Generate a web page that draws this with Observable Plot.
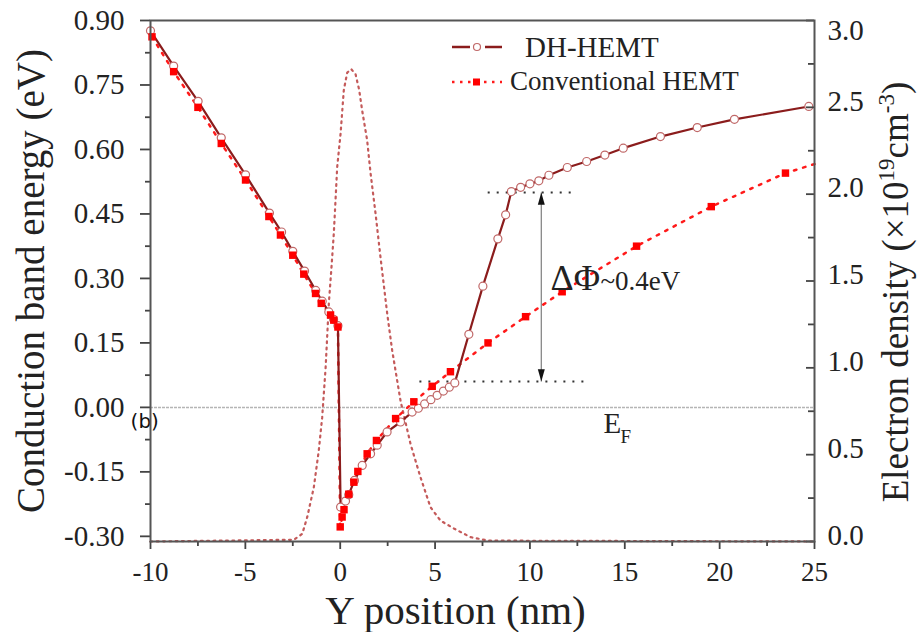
<!DOCTYPE html>
<html>
<head>
<meta charset="utf-8">
<script src="https://cdn.jsdelivr.net/npm/d3@7"></script>
<script src="https://cdn.jsdelivr.net/npm/@observablehq/plot@0.6"></script>
<style>
  html, body { margin: 0; padding: 0; background: #fff; }
  #chart { width: 920px; height: 632px; }
</style>
</head>
<body>
<div id="chart"></div>
<script>
// ---------- data ----------
// DH-HEMT conduction band energy (eV) vs Y position (nm)
const dhX = [-10, -8.78, -7.49, -6.27, -4.99, -3.73, -3.09, -2.50, -1.88, -1.29, -0.95, -0.60, -0.35, -0.12,
             0.02, 0.28, 0.45, 0.75, 1.16, 1.60, 1.95, 2.47, 3.18, 3.79, 4.12, 4.45, 4.78, 5.11, 5.44, 5.75, 6.04,
             6.78, 7.52, 8.31, 8.72, 9.02, 9.51, 10.00, 10.47, 11.00, 11.97, 12.99, 13.95, 14.92, 16.88, 18.82, 20.78, 24.70];
const dhE = [0.876, 0.794, 0.712, 0.627, 0.541, 0.452, 0.408, 0.363, 0.317, 0.272, 0.247, 0.222, 0.205, 0.190,
             -0.232, -0.218, -0.203, -0.170, -0.135, -0.108, -0.088, -0.057, -0.034, -0.011, -0.002, 0.008, 0.018, 0.028, 0.038, 0.047, 0.057,
             0.170, 0.282, 0.392, 0.448, 0.502, 0.512, 0.520, 0.527, 0.540, 0.558, 0.572, 0.587, 0.603, 0.630, 0.651, 0.670, 0.700];

// Conventional HEMT conduction band energy (eV); last point is the line end at the frame (no marker)
const convX = [-9.92, -8.78, -7.50, -6.27, -4.99, -3.76, -3.15, -2.50, -1.92, -1.30, -1.00, -0.51, -0.34, -0.12,
               0.00, 0.10, 0.20, 0.45, 0.72, 0.93, 1.42, 1.91, 2.92, 3.88, 4.85, 5.81, 7.79, 9.77, 11.70, 15.62, 19.56, 23.47, 25.00];
const convE = [0.862, 0.781, 0.698, 0.614, 0.529, 0.444, 0.401, 0.354, 0.310, 0.265, 0.242, 0.215, 0.203, 0.187,
               -0.278, -0.255, -0.238, -0.202, -0.174, -0.149, -0.108, -0.077, -0.026, 0.013, 0.049, 0.083, 0.150, 0.211, 0.269, 0.375, 0.467, 0.545, 0.566];

// Electron density (x10^19 cm^-3) vs Y position (nm), right axis
const densX = [-10, -2.45, -2.00, -1.74, -1.39, -1.13, -0.95, -0.77, -0.60, -0.46, -0.34, -0.25, -0.16, 0.02, 0.19, 0.37, 0.58, 0.81, 1.00,
               1.16, 1.42, 1.60, 1.86, 2.12, 2.48, 2.74, 3.18, 3.71, 4.23, 4.76, 5.29, 5.99, 6.87, 7.80, 25];
const densN = [0, 0.01, 0.044, 0.14, 0.313, 0.524, 0.716, 1.00, 1.37, 1.58, 1.77, 1.96, 2.155, 2.35, 2.60, 2.70, 2.72, 2.69, 2.60,
               2.48, 2.31, 2.12, 1.89, 1.64, 1.31, 1.10, 0.81, 0.56, 0.37, 0.197, 0.12, 0.075, 0.025, 0.005, 0];

// axes
const xTicks = [-10, -5, 0, 5, 10, 15, 20, 25];
const xMinor = [-7.5, -2.5, 2.5, 7.5, 12.5, 17.5, 22.5];
const yTicks = [-0.30, -0.15, 0, 0.15, 0.30, 0.45, 0.60, 0.75, 0.90];
const yMinor = [-0.225, -0.075, 0.075, 0.225, 0.375, 0.525, 0.675, 0.825];
const nTicks = [0, 0.5, 1.0, 1.5, 2.0, 2.5, 3.0];
const nMinor = [0.25, 0.75, 1.25, 1.75, 2.25, 2.75];
const xDomain = [-10, 25];
const yDomain = [-0.312, 0.90];
const nDomain = [0, 3];

// annotation (ΔΦ between the DH-HEMT kinks)
const deltaY = [0.50, 0.06];
const deltaX1 = [7.8, 4.2];
const deltaX2 = [12.25, 13.2];
const arrowX = [10.6];
const deltaLabel = ["ΔΦ", "~0.4eV"];
const deltaLabelX = [11.09, 13.72];
const deltaLabelY = [0.273, 0.273];
const efLabel = ["E", "F"];
const efLabelX = [13.88, 14.78];
const efLabelY = [-0.060, -0.0835];
const panelLabel = ["(b)"];
const panelLabelX = [-11.05];
const panelLabelY = [-0.0486];

// texts
const xTitle = "Y position (nm)";
const yTitle = "Conduction band energy (eV)";
const rightTitleParts = ["Electron density (×10", "19", "cm", "-3", ")"];
const rightTitleSup = [false, true, false, true, false];
const legendLabels = ["DH-HEMT", "Conventional HEMT"];

// ---------- build ----------
const W = 920, H = 632, mL = 150, mR = 106, mT = 20, mB = 91;
const plotW = W - mL - mR;
const toLeft = n => yDomain[0] + (n - nDomain[0]) / (nDomain[1] - nDomain[0]) * (yDomain[1] - yDomain[0]);
const fromLeft = v => nDomain[0] + (v - yDomain[0]) / (yDomain[1] - yDomain[0]) * (nDomain[1] - nDomain[0]);

const dh = dhX.map((x, i) => ({x, y: dhE[i]}));
const conv = convX.map((x, i) => ({x, y: convE[i]}));
const convMarks = conv.slice(0, conv.length - 1);
const dens = densX.map((x, i) => ({x, y: toLeft(densN[i])}));
const deltaRules = deltaY.map((y, i) => ({y, x1: deltaX1[i], x2: deltaX2[i]}));
const arrowSpec = [{x: arrowX[0], y1: deltaY[1], y2: deltaY[0]}];

const triUp = {draw(ctx, size) { const s = Math.sqrt(size); ctx.moveTo(0, 0); ctx.lineTo(-0.28 * s, s); ctx.lineTo(0.28 * s, s); ctx.closePath(); }};
const triDown = {draw(ctx, size) { const s = Math.sqrt(size); ctx.moveTo(0, 0); ctx.lineTo(-0.28 * s, -s); ctx.lineTo(0.28 * s, -s); ctx.closePath(); }};

const SERIF = "'Liberation Serif', serif";
const SANS = "'DejaVu Sans', sans-serif";
const TXT = "#222", TICK = "#444";
const rightTitleText = rightTitleParts.join("");
const nTop = nTicks.filter(n => n === nDomain[1]);
const nRest = nTicks.filter(n => n !== nDomain[1]);

const plot = Plot.plot({
  width: W, height: H,
  marginLeft: mL, marginRight: mR, marginTop: mT, marginBottom: mB,
  style: {background: "#fff", color: TXT, overflow: "visible"},
  x: {domain: xDomain, axis: null},
  y: {domain: yDomain, axis: null},
  marks: [
    // Fermi level
    Plot.ruleY([0], {stroke: "#b5b5b5", strokeWidth: 1.5, strokeDasharray: "3,1"}),
    // electron density (right axis)
    Plot.line(dens, {x: "x", y: "y", stroke: "#c45a5a", strokeWidth: 2.2, strokeDasharray: "1.8,4.5"}),
    // ΔΦ guides
    Plot.ruleY(deltaRules, {y: "y", x1: "x1", x2: "x2", stroke: "#333", strokeWidth: 2, strokeDasharray: "2,7"}),
    Plot.link(arrowSpec, {x1: "x", x2: "x", y1: "y1", y2: "y2", stroke: "#888", strokeWidth: 1.3}),
    Plot.dot(arrowSpec, {x: "x", y: "y2", symbol: triUp, r: 7, fill: "#111", stroke: null}),
    Plot.dot(arrowSpec, {x: "x", y: "y1", symbol: triDown, r: 7, fill: "#111", stroke: null}),
    // conduction bands
    Plot.line(conv, {x: "x", y: "y", stroke: "#ff1a1a", strokeWidth: 2.5, strokeDasharray: "2.5,7"}),
    Plot.line(dh, {x: "x", y: "y", stroke: "#8b1c1c", strokeWidth: 2.2}),
    Plot.dot(dh, {x: "x", y: "y", r: 4, fill: "#fff", stroke: "#c06868", strokeWidth: 1.2}),
    Plot.dot(convMarks, {x: "x", y: "y", symbol: "square", r: 4.2, fill: "#ff0000", stroke: null}),
    // annotations
    Plot.text(deltaLabel.slice(0, 1), {x: deltaLabelX.slice(0, 1), y: deltaLabelY.slice(0, 1), text: d => d, textAnchor: "start", lineAnchor: "bottom", fontSize: 36, fill: TXT}),
    Plot.text(deltaLabel.slice(1), {x: deltaLabelX.slice(1), y: deltaLabelY.slice(1), text: d => d, textAnchor: "start", lineAnchor: "bottom", fontSize: 27, fill: TXT}),
    Plot.text(efLabel.slice(0, 1), {x: efLabelX.slice(0, 1), y: efLabelY.slice(0, 1), text: d => d, textAnchor: "start", lineAnchor: "bottom", fontSize: 29, fill: TXT}),
    Plot.text(efLabel.slice(1), {x: efLabelX.slice(1), y: efLabelY.slice(1), text: d => d, textAnchor: "start", lineAnchor: "bottom", fontSize: 19, fill: TXT}),
    Plot.text(panelLabel, {x: panelLabelX, y: panelLabelY, text: d => d, textAnchor: "start", lineAnchor: "bottom", fontSize: 20, fill: "#111"}),
    // axes
    Plot.axisX(xTicks, {tickSize: 8, tickPadding: 12, fontSize: 27, tickFormat: d => String(d), stroke: TICK, strokeWidth: 1.8, fill: TXT, label: null}),
    Plot.axisX(xMinor, {tickSize: 5, tickFormat: () => "", stroke: TICK, strokeWidth: 1.8, label: null}),
    Plot.axisY(yTicks, {tickSize: 10, tickPadding: 16, fontSize: 29, tickFormat: d => d.toFixed(2), stroke: TICK, strokeWidth: 1.8, fill: TXT, label: null}),
    Plot.axisY(yMinor, {tickSize: 5, tickFormat: () => "", stroke: TICK, strokeWidth: 1.8, label: null}),
    Plot.axisY(nRest.map(toLeft), {anchor: "right", tickSize: 0, tickPadding: 13, fontSize: 29, dy: -6, tickFormat: d => fromLeft(d).toFixed(1), fill: TXT, label: null}),
    Plot.axisY(nTop.map(toLeft), {anchor: "right", tickSize: 0, tickPadding: 13, fontSize: 29, dy: 10, tickFormat: d => fromLeft(d).toFixed(1), fill: TXT, label: null}),
    Plot.tickY(nTicks.map(toLeft), {y: d => d, insetLeft: plotW - 8, stroke: TICK, strokeWidth: 1.8}),
    Plot.tickY(nMinor.map(toLeft), {y: d => d, insetLeft: plotW - 6, stroke: TICK, strokeWidth: 1.8}),
    Plot.frame({stroke: "#555", strokeWidth: 2}),
    // axis titles
    Plot.text([yTitle], {text: d => d, frameAnchor: "left", dx: -119, rotate: -90, fontSize: 39, textAnchor: "middle", lineAnchor: "middle", fill: TXT}),
    Plot.text([rightTitleText], {text: d => d, frameAnchor: "right", dx: 82, dy: 11, rotate: -90, fontSize: 37, textAnchor: "middle", lineAnchor: "middle", fill: TXT}),
    Plot.text([xTitle], {text: d => d, frameAnchor: "bottom", dx: -27, dy: 82, textAnchor: "middle", lineAnchor: "bottom", fontSize: 41, fill: TXT})
  ]
});

// fonts: serif everywhere except the panel tag
plot.style.fontFamily = SERIF;
plot.querySelectorAll("text").forEach(t => {
  t.style.fontFamily = t.textContent === panelLabel[0] ? SANS : SERIF;
  t.style.fontVariant = "normal";
});

// superscripts in the right-axis title
const rt = Array.from(plot.querySelectorAll("text")).find(t => t.textContent === rightTitleText);
if (rt) {
  rt.textContent = "";
  let raised = false;
  rightTitleParts.forEach((p, i) => {
    const ts = document.createElementNS("http://www.w3.org/2000/svg", "tspan");
    ts.textContent = p;
    if (rightTitleSup[i]) { ts.setAttribute("font-size", "23"); ts.setAttribute("dy", "-14"); raised = true; }
    else if (raised) { ts.setAttribute("dy", "14"); raised = false; }
    rt.appendChild(ts);
  });
}

// legend (inside the plot area, top)
const svg = d3.select(plot);
const lg = svg.append("g").style("font-family", SERIF).attr("fill", TXT).attr("text-anchor", "start");
lg.append("line").attr("x1", 452).attr("x2", 470).attr("y1", 47).attr("y2", 47).attr("stroke", "#8b1c1c").attr("stroke-width", 2.5);
lg.append("line").attr("x1", 485).attr("x2", 502).attr("y1", 47).attr("y2", 47).attr("stroke", "#8b1c1c").attr("stroke-width", 2.5);
lg.append("circle").attr("cx", 477).attr("cy", 47).attr("r", 3.5).attr("fill", "#fff").attr("stroke", "#c06868").attr("stroke-width", 1.2);
lg.append("text").attr("x", 525).attr("y", 57).attr("font-size", 29).attr("text-anchor", "start").style("font-family", SERIF).text(legendLabels[0]);
lg.append("line").attr("x1", 452).attr("x2", 502).attr("y1", 82).attr("y2", 82).attr("stroke", "#ff1a1a").attr("stroke-width", 2.5).attr("stroke-dasharray", "2.5,5.5");
lg.append("rect").attr("x", 473).attr("y", 78.5).attr("width", 7).attr("height", 7).attr("fill", "#ff0000");
lg.append("text").attr("x", 510).attr("y", 90).attr("font-size", 27).attr("text-anchor", "start").style("font-family", SERIF).text(legendLabels[1]);

document.getElementById("chart").appendChild(plot);
</script>
</body>
</html>
